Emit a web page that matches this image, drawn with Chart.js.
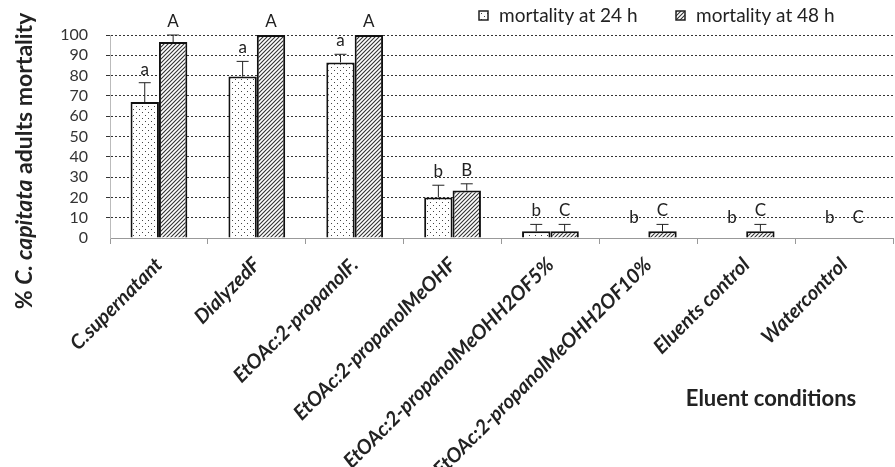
<!DOCTYPE html>
<html>
<head>
<meta charset="utf-8">
<script src="https://cdn.jsdelivr.net/npm/chart.js@4.4.0/dist/chart.umd.min.js"></script>
<style>
  html, body { margin: 0; padding: 0; background: #fff; }
  #chart { display: block; }
</style>
</head>
<body>
<canvas id="chart" width="895" height="467"></canvas>
<script>
// data
const categories = ["C.supernatant", "DialyzedF", "EtOAc:2-propanolF.", "EtOAc:2-propanolMeOHF",
  "EtOAc:2-propanolMeOHH2OF5%", "EtOAc:2-propanolMeOHH2OF10%", "Eluents control", "Watercontrol"];
const mortality24 = [67, 79.5, 86.5, 20, 3.3, 0, 0, 0];
const mortality48 = [96.5, 100, 100, 23.4, 3.3, 3.3, 3.3, 0];
const err24 = [9.5, 7.5, 4, 6, 3.4, 0, 0, 0];
const err48 = [3.5, 0, 0, 3.3, 3.4, 3.4, 3.4, 0];
const letters24 = ["a", "a", "a", "b", "b", "b", "b", "b"];
const letters48 = ["A", "A", "A", "B", "C", "C", "C", "C"];
const seriesNames = ["mortality at 24 h", "mortality at 48 h"];

const FONT = "Lato, 'Open Sans', sans-serif";
const TXT = "#222";

// 점무늬 / 빗금 패턴
function dotPattern() {
  const c = document.createElement("canvas");
  c.width = 6; c.height = 6;
  const g = c.getContext("2d");
  g.fillStyle = "#fff";
  g.fillRect(0, 0, 6, 6);
  g.fillStyle = "#444";
  g.fillRect(1, 1, 1, 1);
  g.fillRect(4, 4, 1, 1);
  return g.createPattern(c, "repeat");
}

function hatchPattern() {
  const c = document.createElement("canvas");
  c.width = 4; c.height = 4;
  const g = c.getContext("2d");
  g.fillStyle = "#fff";
  g.fillRect(0, 0, 4, 4);
  g.strokeStyle = "#333";
  g.lineWidth = 1.1;
  g.beginPath();
  g.moveTo(-1, 5); g.lineTo(5, -1);
  g.moveTo(-1, 1); g.lineTo(1, -1);
  g.moveTo(3, 5); g.lineTo(5, 3);
  g.stroke();
  return g.createPattern(c, "repeat");
}

const fills = [dotPattern(), hatchPattern()];
const errs = [err24, err48];
const letters = [letters24, letters48];

// 오차막대 + 유의성 문자
const errorBarPlugin = {
  id: "errorBars",
  afterDatasetsDraw(chart) {
    const { ctx } = chart;
    const y = chart.scales.y;
    const zeroPx = y.getPixelForValue(0);
    ctx.save();
    chart.data.datasets.forEach((ds, i) => {
      const meta = chart.getDatasetMeta(i);
      meta.data.forEach((bar, j) => {
        const v = ds.data[j];
        const e = errs[i][j];
        const topPx = y.getPixelForValue(v + e);
        if (e > 0) {
          ctx.strokeStyle = "#222";
          ctx.lineWidth = 1;
          ctx.beginPath();
          ctx.moveTo(bar.x, bar.y);
          ctx.lineTo(bar.x, topPx);
          ctx.moveTo(bar.x - 6, topPx);
          ctx.lineTo(bar.x + 6, topPx);
          ctx.stroke();
        }
        ctx.fillStyle = TXT;
        ctx.font = "17px " + FONT;
        ctx.textAlign = "center";
        ctx.textBaseline = "alphabetic";
        const base = Math.min(topPx - 8, zeroPx - 15);
        ctx.fillText(letters[i][j], bar.x, base);
      });
    });
    ctx.restore();
  }
};

// 축 제목, 범례
const titlesPlugin = {
  id: "titles",
  afterDraw(chart) {
    const { ctx } = chart;
    ctx.save();
    // y축 제목 (C. capitata 이탤릭)
    const parts = [
      ["% ", "bold 23px " + FONT],
      ["C. capitata", "italic bold 23px " + FONT],
      [" adults mortality", "bold 23px " + FONT]
    ];
    let total = 0;
    parts.forEach(p => { ctx.font = p[1]; total += ctx.measureText(p[0]).width; });
    ctx.translate(32, 161);
    ctx.rotate(-Math.PI / 2);
    ctx.fillStyle = TXT;
    ctx.textBaseline = "alphabetic";
    ctx.textAlign = "left";
    let x = -total / 2;
    parts.forEach(p => {
      ctx.font = p[1];
      ctx.fillText(p[0], x, 0);
      x += ctx.measureText(p[0]).width;
    });
    ctx.setTransform(1, 0, 0, 1, 0, 0);

    // x축 제목
    ctx.font = "bold 22px " + FONT;
    ctx.textAlign = "center";
    ctx.textBaseline = "middle";
    ctx.fillText("Eluent conditions", 771, 399);

    // 범례
    const items = [[479, seriesNames[0]], [676, seriesNames[1]]];
    ctx.font = "19px " + FONT;
    ctx.textAlign = "left";
    items.forEach(([lx, name], i) => {
      ctx.fillStyle = fills[i];
      ctx.fillRect(lx, 11, 9, 9);
      ctx.strokeStyle = "#222";
      ctx.lineWidth = 1.5;
      ctx.strokeRect(lx, 11, 9, 9);
      ctx.fillStyle = TXT;
      ctx.fillText(name, lx + 20, 16);
    });
    ctx.restore();
  }
};

new Chart(document.getElementById("chart"), {
  type: "bar",
  data: {
    labels: categories,
    datasets: [
      { label: seriesNames[0], data: mortality24, backgroundColor: fills[0], borderColor: "#111", borderWidth: 2 },
      { label: seriesNames[1], data: mortality48, backgroundColor: fills[1], borderColor: "#111", borderWidth: 2 }
    ]
  },
  options: {
    responsive: false,
    animation: false,
    layout: { padding: { top: 35, right: 2, left: 0, bottom: 0 } },
    datasets: { bar: { categoryPercentage: 0.58, barPercentage: 1 } },
    scales: {
      x: {
        afterFit: s => { s.height = 229; },
        grid: { drawOnChartArea: false, drawTicks: true, tickLength: 6, color: "#999" },
        border: { color: "#999" },
        ticks: {
          autoSkip: false, minRotation: 45, maxRotation: 45, padding: 9,
          color: TXT, font: { family: FONT, size: 20, style: "italic", weight: "bold" }
        }
      },
      y: {
        min: 0, max: 100,
        afterFit: s => { s.width = 110; },
        grid: {
          color: c => (c.tick && c.tick.value === 0) ? "rgba(0,0,0,0)" : "#333",
          tickLength: 4, lineWidth: 1
        },
        border: { color: "#bbb", dash: [2, 2] },
        ticks: { stepSize: 10, autoSkip: false, padding: 18, color: "#333", font: { family: FONT, size: 16 } }
      }
    },
    plugins: {
      legend: { display: false },
      tooltip: { enabled: false }
    }
  },
  plugins: [errorBarPlugin, titlesPlugin]
});
</script>
</body>
</html>
